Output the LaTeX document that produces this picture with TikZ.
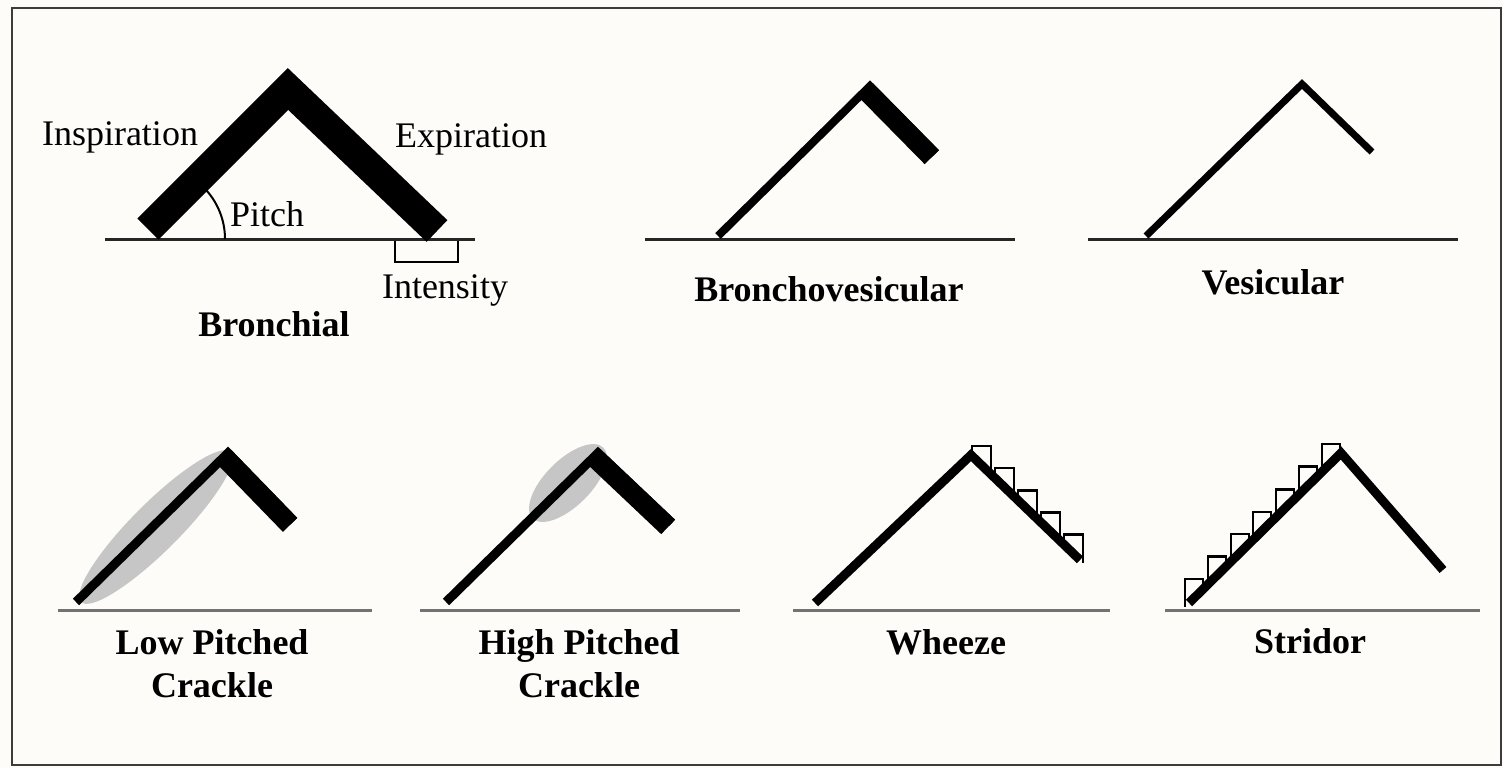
\documentclass[tikz,border=0pt]{standalone}
\usepackage{fontspec}
\setmainfont{Liberation Serif}
\usetikzlibrary{calc}
\definecolor{paper}{RGB}{253,252,248}
\definecolor{framegray}{RGB}{60,60,60}
\definecolor{groundgray}{RGB}{115,115,115}
\definecolor{crackleshade}{RGB}{198,198,198}
\tikzset{
    groundline/.style={line width=3pt, draw=black!85},
    lowground/.style={line width=3pt, draw=groundgray},
    soundarm/.style={line width=#1, line cap=butt, line join=miter, draw=black},
    soundarm/.default=9pt,
    tooth/.style={line width=2.5pt, line join=miter, draw=black},
    labeltext/.style={font=\fontsize{36}{43}\selectfont, inner sep=0pt, align=center},
    titletext/.style={labeltext, font=\fontsize{36}{43}\selectfont\bfseries},
}

\begin{document}
\begin{tikzpicture}[x=1pt, y=-1pt]
    % paper and frame
    \fill[paper] (0,0) rectangle (1503,768);
    \draw[framegray, line width=2.5pt] (12,8) rectangle (1501,765);

    % Bronchial
    \coordinate (bron-foot) at (148,229);
    \coordinate (bron-apex) at (288,89);
    \coordinate (bron-end) at (437,231);
    \draw[line width=2.5pt] (395,239) rectangle (458,262);
    \draw[groundline] (105,239) -- (475,239);
    \draw[line width=2pt] (225,239) arc[start angle=0, end angle=45, radius=73pt];
    \draw[soundarm=30pt] (bron-foot) -- (bron-apex) -- (bron-end);
    \node[labeltext] (inspiration) at (120,137) {Inspiration};
    \node[labeltext] (expiration) at (471,139) {Expiration};
    \node[labeltext] (pitch) at (267,214) {Pitch};
    \node[labeltext] (intensity) at (445,290) {Intensity};
    \node[titletext] (bronchial) at (274,324) {Bronchial};

    % Bronchovesicular
    \coordinate (bv-foot) at (718,236);
    \coordinate (bv-apex) at (870,86);
    \coordinate (bv-end) at (936,153);
    \draw[groundline] (645,239) -- (1015,239);
    \draw[soundarm=8pt] (bv-foot) -- (bv-apex) -- (bv-end);
    \draw[soundarm=20pt] ([shift={(-4.2,4.2)}]bv-apex) -- ([shift={(-4.2,4.2)}]bv-end);
    \node[titletext] (bronchovesicular) at (829,289) {Bronchovesicular};

    % Vesicular
    \coordinate (ves-foot) at (1146,236);
    \coordinate (ves-apex) at (1302,84);
    \coordinate (ves-end) at (1372,152);
    \draw[groundline] (1088,239) -- (1458,239);
    \draw[soundarm=7pt] (ves-foot) -- (ves-apex) -- (ves-end);
    \node[titletext] (vesicular) at (1273,282) {Vesicular};

    % Low pitched crackle
    \coordinate (lpc-foot) at (76,602);
    \coordinate (lpc-apex) at (228,453);
    \coordinate (lpc-end) at (294,521);
    \coordinate (lpc-blur) at (156,527);
    \fill[crackleshade, rotate around={45:(lpc-blur)}] (lpc-blur) ellipse[x radius=106pt, y radius=24pt];
    \draw[lowground] (58,610) -- (372,610);
    \draw[soundarm] (lpc-foot) -- (lpc-apex) -- (lpc-end);
    \draw[soundarm=20pt] ([shift={(-3.9,3.9)}]lpc-apex) -- ([shift={(-3.9,3.9)}]lpc-end);
    \node[titletext] (lowpitched) at (212,664) {Low Pitched\\Crackle};

    % High pitched crackle
    \coordinate (hpc-foot) at (446,602);
    \coordinate (hpc-apex) at (598,453);
    \coordinate (hpc-end) at (672,523);
    \coordinate (hpc-blur) at (568,483);
    \fill[crackleshade, rotate around={45:(hpc-blur)}] (hpc-blur) ellipse[x radius=50pt, y radius=23pt];
    \draw[lowground] (420,610) -- (740,610);
    \draw[soundarm] (hpc-foot) -- (hpc-apex) -- (hpc-end);
    \draw[soundarm=20pt] ([shift={(-3.9,3.9)}]hpc-apex) -- ([shift={(-3.9,3.9)}]hpc-end);
    \node[titletext] (highpitched) at (579,664) {High Pitched\\Crackle};

    % Wheeze
    \coordinate (wh-foot) at (815,603);
    \coordinate (wh-apex) at (971,455);
    \coordinate (wh-end) at (1080,560);
    \draw[lowground] (793,610) -- (1110,610);
    \foreach \tx in {972,995,1018,1041,1064} {
        \pgfmathsetmacro{\ya}{455+(\tx-971)*0.963}
        \pgfmathsetmacro{\yb}{455+(\tx+19-971)*0.963}
        \draw[tooth] (\tx,\ya) -- (\tx,\ya-10) -- (\tx+19,\ya-10) -- (\tx+19,\yb);
    }
    \draw[soundarm] (wh-foot) -- (wh-apex) -- (wh-end);
    \node[titletext] (wheeze) at (946,642) {Wheeze};

    % Stridor
    \coordinate (st-foot) at (1189,603);
    \coordinate (st-apex) at (1341,453);
    \coordinate (st-end) at (1443,570);
    \draw[lowground] (1165,610) -- (1480,610);
    \foreach \tx in {1185,1208,1231,1253,1276,1299,1322} {
        \pgfmathsetmacro{\ya}{603-(\tx-1189)*0.987}
        \pgfmathsetmacro{\yb}{603-(\tx+18-1189)*0.987}
        \draw[tooth] (\tx,\ya) -- (\tx,\yb-10) -- (\tx+18,\yb-10) -- (\tx+18,\yb);
    }
    \draw[soundarm] (st-foot) -- (st-apex) -- (st-end);
    \node[titletext] (stridor) at (1310,641) {Stridor};
\end{tikzpicture}
\end{document}
